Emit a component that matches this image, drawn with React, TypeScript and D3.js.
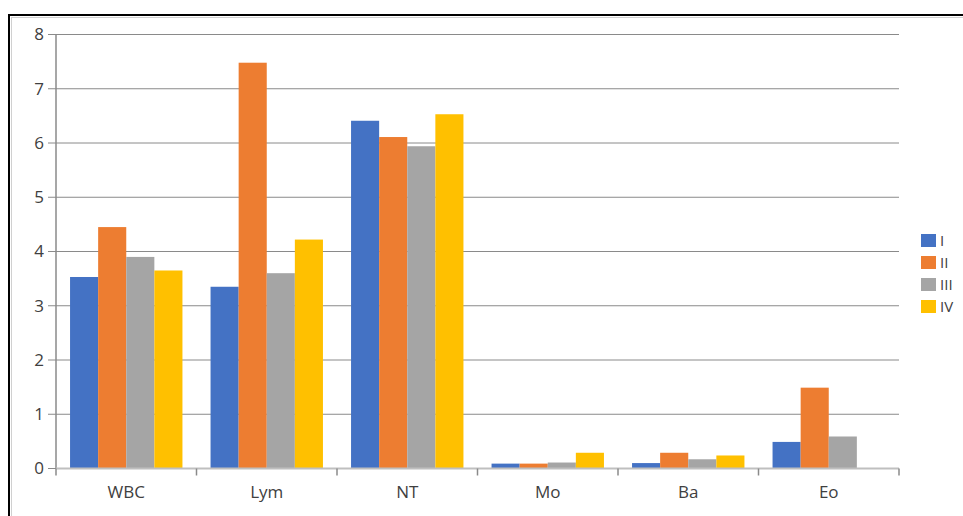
import React from "react";
import * as d3 from "d3";

const categories = ["WBC", "Lym", "NT", "Mo", "Ba", "Eo"];
const seriesNames = ["I", "II", "III", "IV"];
const seriesI = [3.53, 3.35, 6.41, 0.09, 0.1, 0.49];
const seriesII = [4.45, 7.48, 6.11, 0.09, 0.29, 1.49];
const seriesIII = [3.9, 3.6, 5.94, 0.11, 0.17, 0.59];
const seriesIV = [3.65, 4.22, 6.53, 0.29, 0.24, 0];
const yTicks = [0, 1, 2, 3, 4, 5, 6, 7, 8];
const colors = ["#4472C4", "#ED7D31", "#A5A5A5", "#FFC000"];

const W = 963;
const H = 516;
const FONT = "'Open Sans', 'DejaVu Sans', sans-serif";

export default function App() {
  const series = [seriesI, seriesII, seriesIII, seriesIV];
  const x0 = d3.scaleBand<string>().domain(categories).range([56, 899]).padding(0);
  const bw = x0.bandwidth();
  const x1 = d3
    .scaleBand<string>()
    .domain(seriesNames)
    .range([bw * 0.1, bw * 0.9])
    .padding(0);
  const y = d3.scaleLinear().domain([0, 8]).range([468.5, 34.5]);
  const boundaries = categories.map((c) => x0(c)!).concat([x0.range()[1]]);

  return (
    <div style={{ position: "absolute", left: 0, top: 0 }}>
      <svg width={W} height={H} style={{ display: "block" }}>
        <rect x={0} y={0} width={W} height={H} fill="#fff" />
        {/* frame */}
        <line x1={9} y1={14} x2={9} y2={H} stroke="#000" strokeWidth={2} />
        <line x1={8} y1={15} x2={W} y2={15} stroke="#000" strokeWidth={2} />
        <line x1={11.5} y1={17} x2={11.5} y2={H} stroke="#d0d0d0" strokeWidth={1} />
        <line x1={11} y1={17.5} x2={W} y2={17.5} stroke="#d0d0d0" strokeWidth={1} />

        {/* gridlines */}
        {yTicks.filter((t) => t > 0).map((t) => (
          <line key={t} x1={56} x2={899} y1={y(t)} y2={y(t)} stroke="#8a8a8a" strokeWidth={1} />
        ))}
        {/* y ticks & labels */}
        {yTicks.map((t) => (
          <g key={t}>
            <line x1={48} x2={56} y1={y(t)} y2={y(t)} stroke="#8a8a8a" strokeWidth={1} />
            <text
              x={44}
              y={y(t)}
              dy="0.35em"
              textAnchor="end"
              fontFamily={FONT}
              fontSize={17}
              fill="#404040"
            >
              {t}
            </text>
          </g>
        ))}
        {/* bars */}
        {categories.map((c, i) => (
          <g key={c} transform={`translate(${x0(c)},0)`}>
            {series.map((s, j) => (
              <rect
                key={j}
                x={x1(seriesNames[j])!}
                y={y(s[i])}
                width={x1.bandwidth()}
                height={y(0) - y(s[i])}
                fill={colors[j]}
              />
            ))}
          </g>
        ))}
        {/* y axis */}
        <line x1={56} x2={56} y1={y(8)} y2={y(0)} stroke="#8a8a8a" strokeWidth={1.5} />
        {/* x axis */}
        <line x1={56} x2={899} y1={y(0)} y2={y(0)} stroke="#bfbfbf" strokeWidth={2} />
        {boundaries.map((b, i) => (
          <line key={i} x1={b} x2={b} y1={y(0)} y2={y(0) + 7} stroke="#8a8a8a" strokeWidth={1.5} />
        ))}
        {categories.map((c) => (
          <text
            key={c}
            x={x0(c)! + bw / 2}
            y={498}
            textAnchor="middle"
            fontFamily={FONT}
            fontSize={17}
            fill="#404040"
          >
            {c}
          </text>
        ))}
        {/* legend */}
        {seriesNames.map((n, j) => (
          <g key={n} transform={`translate(921,${234 + j * 22})`}>
            <rect x={0} y={0} width={15} height={13} fill={colors[j]} />
            <text x={19} y={7} dy="0.35em" fontFamily={FONT} fontSize={15} fill="#404040">
              {n}
            </text>
          </g>
        ))}
      </svg>
    </div>
  );
}
